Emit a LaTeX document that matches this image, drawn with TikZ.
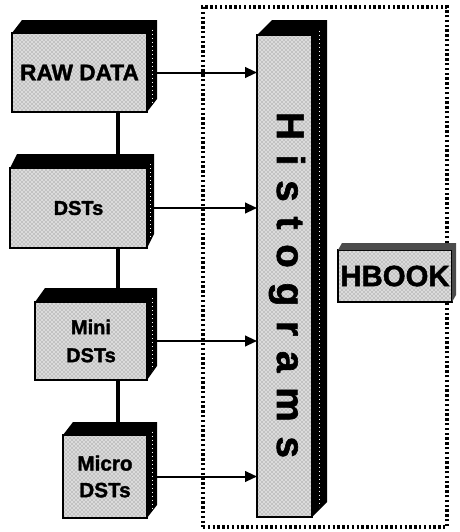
\documentclass[tikz,border=0pt]{standalone}
\usepackage{fontspec}
\setmainfont{Liberation Sans}[BoldFeatures={FakeBold=1.6}]
\usetikzlibrary{arrows.meta,calc,patterns}
\pgfdeclarelayer{background}
\pgfsetlayers{background,main}

% top and right faces of a slab whose front face is node #1, depth (#2,#3)
\newcommand\slabfaces[3]{%
  \fill[black] (#1.north west) -- ++(#2,#3) -- ($(#1.north east)+(#2,#3)$)
    -- ($(#1.south east)+(#2,#3)$) -- (#1.south east) -- (#1.north east) -- cycle;
  \draw[white, line width=0.7pt, dash pattern=on 0.8pt off 2.2pt]
    ($(#1.north east)+(#2/2,#3/2+3)$) -- ($(#1.south east)+(#2/2,#3/2-3)$);
}

\begin{document}
\begin{tikzpicture}[x=0.75pt, y=-0.75pt,
  front/.style={draw=black, line width=1.8pt, inner sep=0pt, outer sep=0pt,
    preaction={fill=black!14}, pattern=crosshatch dots, pattern color=black!55,
    align=center, font=\bfseries},
  feed/.style={line width=1.5pt, -{Triangle[length=9pt, width=8pt]}},
  spineline/.style={line width=3pt},
  frame/.style={draw=black, line width=2.4pt, dash pattern=on 1.8pt off 1.8pt,
    inner sep=0pt, outer sep=0pt}]
\useasboundingbox (0,0) rectangle (460,532);

% dotted enclosure of the histogram package
\node[frame, minimum width=183pt, minimum height=390pt] (frame) at (325,267) {};

% data stages
\node[front, minimum width=101.25pt, minimum height=59.25pt, font=\bfseries\fontsize{17}{18}\selectfont]
  (raw) at (79.5,72.5) {RAW DATA};
\slabfaces{raw}{10}{-13}
\node[front, minimum width=102.75pt, minimum height=60pt, font=\bfseries\fontsize{15}{17}\selectfont]
  (dst) at (78.5,208) {DSTs};
\slabfaces{dst}{7}{-14}
\node[front, minimum width=84pt, minimum height=58.5pt, font=\bfseries\fontsize{15}{21}\selectfont]
  (mini) at (91,341) {Mini\\DSTs};
\slabfaces{mini}{10}{-14}
\node[front, minimum width=63pt, minimum height=62.25pt, font=\bfseries\fontsize{15.5}{20}\selectfont]
  (micro) at (105,476.5) {Micro\\DSTs};
\slabfaces{micro}{10}{-13}

% histogram bar
\node[front, minimum width=41.25pt, minimum height=361.5pt] (hist) at (284.5,276) {};
\slabfaces{hist}{15}{-15}
\node[rotate=-90, anchor=base, inner sep=0pt, font=\bfseries\fontsize{29}{30}\selectfont]
  (histlabel) at (277,285)
  {\makebox[259.5pt]{H\hfill i\hfill s\hfill t\hfill o\hfill g\hfill r\hfill a\hfill m\hfill s}};

% HBOOK package
\node[front, minimum width=85.5pt, minimum height=39pt, font=\bfseries\fontsize{22}{24}\selectfont]
  (hbook) at (395,276) {HBOOK};
\fill[black!70] (hbook.north west) -- ++(4,-7) -- ($(hbook.north east)+(4,-7)$)
  -- ($(hbook.south east)+(4,-7)$) -- (hbook.south east) -- (hbook.north east) -- cycle;

% processing chain behind the slabs
\coordinate (spine) at (118,0);
\begin{pgfonlayer}{background}
  \draw[spineline] (raw.south -| spine) -- (dst.north -| spine);
  \draw[spineline] (dst.south -| spine) -- (mini.north -| spine);
  \draw[spineline] (mini.south -| spine) -- (micro.north -| spine);
\end{pgfonlayer}

% filling histograms at every stage
\draw[feed] ($(raw.east)+(10,0)$) -- (raw.east -| hist.west);
\draw[feed] ($(dst.east)+(7,0)$) -- (dst.east -| hist.west);
\draw[feed] ($(mini.east)+(10,0)$) -- (mini.east -| hist.west);
\draw[feed] ($(micro.east)+(10,0)$) -- (micro.east -| hist.west);
\end{tikzpicture}
\end{document}
